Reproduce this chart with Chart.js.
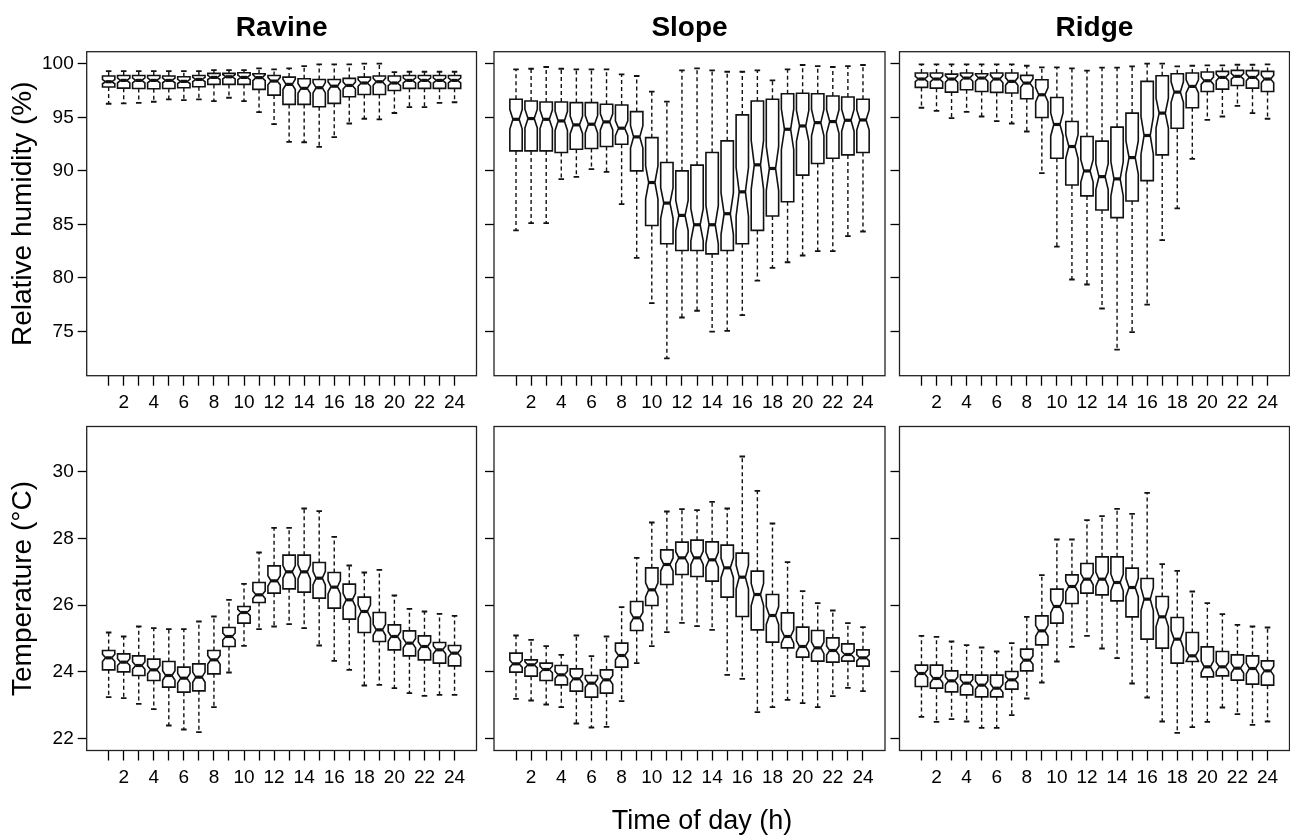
<!DOCTYPE html>
<html>
<head>
<meta charset="utf-8">
<title>Hourly humidity and temperature</title>
<script src="https://cdn.jsdelivr.net/npm/chart.js@4.4.1/dist/chart.umd.min.js"></script>
<style>
  body { margin: 0; background: #fff; }
  #wrap { position: relative; width: 1290px; height: 835px; overflow: hidden;
          font-family: 'Liberation Sans', Arial, Helvetica, sans-serif; color: #000; }
  #wrap canvas { position: absolute; left: 0; top: 0; }
  .title { position: absolute; font-size: 28px; line-height: 28px; font-weight: bold;
           white-space: nowrap; transform: translateX(-50%); }
  .xlab { position: absolute; font-size: 27px; line-height: 27px; white-space: nowrap;
          transform: translateX(-50%); }
</style>
</head>
<body>
<div id="wrap">
  <canvas id="c0" width="1290" height="835"></canvas>
  <canvas id="c1" width="1290" height="835"></canvas>
  <canvas id="c2" width="1290" height="835"></canvas>
  <canvas id="c3" width="1290" height="835"></canvas>
  <canvas id="c4" width="1290" height="835"></canvas>
  <canvas id="c5" width="1290" height="835"></canvas>
  <div class="title" style="left:281.6px; top:13px;">Ravine</div>
  <div class="title" style="left:689.5px; top:13px;">Slope</div>
  <div class="title" style="left:1094.5px; top:13px;">Ridge</div>
  <div class="xlab" style="left:702px; top:807px;">Time of day (h)</div>
</div>
<script>
// hours of the day and tick labels
const hours = [1,2,3,4,5,6,7,8,9,10,11,12,13,14,15,16,17,18,19,20,21,22,23,24];
const hourLabels = [2,4,6,8,10,12,14,16,18,20,22,24];
const rhTicks = [75,80,85,90,95,100];
const tempTicks = [22,24,26,28,30];
const siteNames = ["Ravine", "Slope", "Ridge"];
const rhTitle = "Relative humidity (%)";
const tempTitle = "Temperature (°C)";

// relative humidity (%), whisker ends, hinges and medians
const ravineRhHi  = [99.31,99.3,99.3,99.3,99.3,99.3,99.3,99.4,99.4,99.4,99.56,99.47,99.56,99.78,99.94,99.94,99.94,100.0,100.0,99.22,99.25,99.25,99.25,99.25];
const ravineRhQ3  = [98.85,98.9,98.9,98.9,98.85,98.78,98.9,99.1,99.1,99.16,99.06,98.9,98.75,98.6,98.53,98.53,98.63,98.75,98.85,98.85,98.9,98.9,98.9,98.9];
const ravineRhMed = [98.32,98.44,98.44,98.44,98.44,98.35,98.53,98.72,98.78,98.72,98.7,98.38,98.07,97.7,97.76,97.9,97.97,98.2,98.32,98.2,98.44,98.44,98.44,98.44];
const ravineRhQ1  = [97.82,97.72,97.69,97.66,97.69,97.75,97.85,98.07,98.07,98.07,97.6,97.07,96.2,96.2,95.98,96.3,96.91,97.13,97.13,97.5,97.7,97.7,97.7,97.7];
const ravineRhLo  = [96.26,96.3,96.35,96.45,96.67,96.6,96.67,96.5,96.82,96.5,95.48,94.36,92.7,92.67,92.24,93.14,94.42,94.86,94.8,95.4,95.95,95.95,96.35,96.4];

const slopeRhHi  = [99.47,99.53,99.69,99.53,99.47,99.47,99.47,99.0,98.85,97.39,96.46,99.38,99.57,99.38,99.25,99.25,99.38,98.45,99.47,99.88,99.78,99.69,99.78,99.88];
const slopeRhQ3  = [96.68,96.52,96.43,96.43,96.37,96.37,96.21,96.15,95.53,93.1,90.78,90.0,90.53,91.71,92.8,95.22,96.52,96.68,97.2,97.24,97.2,96.99,96.89,96.68];
const slopeRhMed = [94.81,94.88,94.81,94.66,94.29,94.35,94.57,93.98,93.17,88.91,86.99,85.84,84.97,84.97,86.0,88.04,90.56,90.22,93.88,94.19,94.5,94.6,94.72,94.75];
const slopeRhQ1  = [91.86,91.86,91.86,91.71,92.02,92.08,92.27,92.48,90.0,84.9,83.19,82.56,82.56,82.25,82.56,83.19,84.44,85.78,87.11,89.6,90.68,91.18,91.49,91.71];
const slopeRhLo  = [84.44,85.12,85.12,89.22,89.44,90.16,89.91,86.9,81.87,77.66,72.5,76.31,76.94,75.0,75.06,76.53,79.75,80.94,81.47,82.1,82.5,82.5,83.9,84.34];

const ridgeRhHi  = [99.94,99.94,99.94,99.94,99.94,99.94,99.94,99.81,99.66,99.66,99.56,99.35,99.63,99.63,99.75,100.0,100.0,99.75,99.81,99.84,99.84,99.9,99.9,99.94];
const ridgeRhQ3  = [99.13,99.13,99.03,99.13,99.06,99.13,99.13,98.91,98.5,96.85,94.61,93.2,92.77,94.08,95.39,98.35,98.88,99.06,99.13,99.22,99.28,99.38,99.35,99.28];
const ridgeRhMed = [98.57,98.57,98.57,98.66,98.66,98.57,98.35,98.19,97.1,94.33,92.27,89.99,89.46,89.25,91.24,93.3,95.39,97.35,97.88,98.41,98.72,98.82,98.72,98.57];
const ridgeRhQ1  = [97.79,97.72,97.35,97.57,97.41,97.32,97.26,96.73,94.98,91.18,88.68,87.66,86.35,85.63,87.19,89.09,91.49,93.98,95.89,97.41,97.63,97.97,97.72,97.41];
const ridgeRhLo  = [95.89,95.6,94.92,95.51,95.07,94.64,94.42,93.67,89.78,82.92,79.86,79.39,77.15,73.32,74.94,77.52,83.54,86.5,91.12,94.76,95.07,96.07,95.39,94.86];

// temperature (°C)
const ravineTHi  = [25.18,25.06,25.36,25.31,25.28,25.28,25.51,25.66,26.16,26.64,27.58,28.32,28.32,28.9,28.82,28.05,27.19,26.98,27.06,26.29,25.89,25.81,25.74,25.68];
const ravineTQ3  = [24.64,24.54,24.48,24.38,24.31,24.14,24.24,24.64,25.33,25.96,26.68,27.18,27.5,27.5,27.28,26.98,26.63,26.24,25.78,25.41,25.23,25.08,24.88,24.79];
const ravineTMed = [24.42,24.29,24.19,24.06,23.89,23.81,23.84,24.36,25.06,25.78,26.31,26.73,27.0,27.0,26.81,26.54,26.16,25.81,25.26,25.06,24.86,24.76,24.66,24.56];
const ravineTQ1  = [24.06,24.0,23.89,23.74,23.54,23.39,23.43,23.94,24.76,25.46,26.08,26.36,26.49,26.39,26.21,25.91,25.58,25.18,24.91,24.66,24.48,24.36,24.26,24.18];
const ravineTLo  = [23.24,23.21,23.04,22.88,22.39,22.27,22.19,22.94,23.98,24.78,25.28,25.36,25.43,25.31,24.79,24.33,24.06,23.59,23.61,23.51,23.36,23.28,23.31,23.31];

const slopeTHi  = [25.09,24.96,24.77,24.51,25.09,24.47,25.06,25.94,27.42,28.48,28.81,28.88,28.85,29.1,28.9,30.46,29.43,28.45,27.29,26.42,26.06,25.84,25.46,25.34];
const slopeTQ3  = [24.56,24.36,24.26,24.19,24.09,23.89,24.06,24.86,26.11,27.12,27.66,27.89,27.95,27.9,27.8,27.56,27.02,26.32,25.77,25.34,25.24,25.02,24.84,24.66];
const slopeTMed = [24.24,24.21,24.07,23.91,23.79,23.66,23.76,24.49,25.62,26.46,27.22,27.42,27.42,27.36,27.12,26.84,26.32,25.69,25.06,24.76,24.72,24.64,24.52,24.42];
const slopeTQ1  = [23.99,23.87,23.74,23.61,23.42,23.24,23.36,24.14,25.24,25.99,26.62,26.92,26.86,26.72,26.24,25.66,25.26,24.89,24.72,24.44,24.32,24.29,24.32,24.17];
const slopeTLo  = [23.19,23.14,23.02,22.94,22.45,22.33,22.35,23.12,24.26,24.77,25.19,25.47,25.37,25.26,23.91,23.79,22.79,22.94,23.16,23.06,22.94,23.27,23.52,23.42];

const ridgeTHi  = [25.08,25.05,24.91,24.8,24.73,24.61,24.86,25.65,26.9,27.97,27.97,28.55,28.67,28.89,28.74,29.37,27.23,27.03,26.41,26.06,25.73,25.41,25.36,25.33];
const ridgeTQ3  = [24.2,24.2,24.03,23.91,23.9,23.9,24.01,24.68,25.68,26.48,26.91,27.25,27.45,27.45,27.11,26.8,26.26,25.63,25.18,24.75,24.61,24.51,24.48,24.33];
const ridgeTMed = [23.95,23.8,23.73,23.66,23.6,23.51,23.76,24.35,25.23,25.96,26.56,26.78,26.78,26.68,26.53,26.18,25.65,24.98,24.48,24.15,24.15,24.11,24.1,24.03];
const ridgeTQ1  = [23.56,23.51,23.4,23.31,23.25,23.25,23.48,24.03,24.81,25.46,26.05,26.36,26.31,26.13,25.65,24.98,24.71,24.26,24.31,23.85,23.88,23.75,23.63,23.6];
const ridgeTLo  = [22.65,22.5,22.58,22.51,22.32,22.32,22.7,23.2,23.68,24.31,24.75,25.08,24.7,24.41,23.65,23.23,22.51,22.17,22.34,22.5,22.93,22.73,22.41,22.51];

// approx. number of observations per hour (sets notch depth)
const nObs = 70;

// layout (pixels)
const COL_LEFT = [86.7, 494, 899.5];
const COL_RIGHT = [476.5, 885, 1289.5];
const ROW_TOP = [51.7, 426.5];
const ROW_BOTTOM = [375.7, 750.5];
const X_AXIS_H = 40;
const BOX_WIDTH = 0.82;     // in hours
const NOTCH_FRAC = 0.5;
const STAPLE_FRAC = 0.45;

Chart.defaults.font.family = "'Liberation Sans', Arial, Helvetica, sans-serif";
Chart.defaults.color = "#000";

const boxplotPlugin = {
    id: "boxplot",
    afterDatasetsDraw(chart) {
        const ctx = chart.ctx;
        const xs = chart.scales.x;
        const ys = chart.scales.y;
        const s = chart.data.datasets[0].stats;
        const k = 1.58 / Math.sqrt(nObs);

        ctx.save();
        ctx.strokeStyle = "#111";
        hours.forEach((h, i) => {
            const x = xs.getPixelForValue(h);
            const w = xs.getPixelForValue(h + BOX_WIDTH / 2) - x;
            const yHi = ys.getPixelForValue(s.hi[i]);
            const yQ3 = ys.getPixelForValue(s.q3[i]);
            const yMed = ys.getPixelForValue(s.med[i]);
            const yQ1 = ys.getPixelForValue(s.q1[i]);
            const yLo = ys.getPixelForValue(s.lo[i]);
            const iqr = s.q3[i] - s.q1[i];
            const yC1 = ys.getPixelForValue(s.med[i] - k * iqr);
            const yC2 = ys.getPixelForValue(s.med[i] + k * iqr);

            // whiskers
            ctx.lineWidth = 1.4;
            ctx.setLineDash([4, 3]);
            ctx.beginPath();
            ctx.moveTo(x, yQ3); ctx.lineTo(x, yHi);
            ctx.moveTo(x, yQ1); ctx.lineTo(x, yLo);
            ctx.stroke();
            ctx.setLineDash([]);
            ctx.lineWidth = 1.8;
            ctx.beginPath();
            ctx.moveTo(x - w * STAPLE_FRAC, yHi); ctx.lineTo(x + w * STAPLE_FRAC, yHi);
            ctx.moveTo(x - w * STAPLE_FRAC, yLo); ctx.lineTo(x + w * STAPLE_FRAC, yLo);
            ctx.stroke();

            // notched box
            ctx.lineWidth = 1.6;
            ctx.beginPath();
            ctx.moveTo(x - w, yQ1);
            ctx.lineTo(x + w, yQ1);
            ctx.lineTo(x + w, yC1);
            ctx.lineTo(x + w * NOTCH_FRAC, yMed);
            ctx.lineTo(x + w, yC2);
            ctx.lineTo(x + w, yQ3);
            ctx.lineTo(x - w, yQ3);
            ctx.lineTo(x - w, yC2);
            ctx.lineTo(x - w * NOTCH_FRAC, yMed);
            ctx.lineTo(x - w, yC1);
            ctx.closePath();
            ctx.fillStyle = "#fff";
            ctx.fill();
            ctx.stroke();

            // median
            ctx.lineWidth = 3.2;
            ctx.beginPath();
            ctx.moveTo(x - w * NOTCH_FRAC, yMed);
            ctx.lineTo(x + w * NOTCH_FRAC, yMed);
            ctx.stroke();
        });

        // plot frame
        const a = chart.chartArea;
        ctx.lineWidth = 1.3;
        ctx.strokeStyle = "#222";
        ctx.strokeRect(a.left, a.top, a.right - a.left, a.bottom - a.top);
        ctx.restore();
    }
};

function makePanel(canvasId, col, row, stats, yMin, yMax, yTicks, yTitle) {
    const left = COL_LEFT[col];
    const right = COL_RIGHT[col];
    const top = ROW_TOP[row];
    const bottom = ROW_BOTTOM[row];
    const yW = col === 0 ? left : 20;

    return new Chart(document.getElementById(canvasId), {
        type: "scatter",
        data: {
            datasets: [{
                data: hours.map((h, i) => ({ x: h, y: stats.med[i] })),
                pointRadius: 0,
                showLine: false,
                stats: stats
            }]
        },
        options: {
            responsive: false,
            animation: false,
            devicePixelRatio: 1,
            events: [],
            layout: {
                padding: { left: left - yW, right: 1290 - right, top: top, bottom: 835 - bottom - X_AXIS_H }
            },
            plugins: {
                legend: { display: false },
                tooltip: { enabled: false }
            },
            scales: {
                x: {
                    type: "linear",
                    bounds: "data",
                    min: -0.46,
                    max: 25.46,
                    afterBuildTicks: (s) => { s.ticks = hours.map(v => ({ value: v })); },
                    afterFit: (s) => { s.height = X_AXIS_H; },
                    border: { display: false },
                    grid: { drawOnChartArea: false, tickLength: 10, color: "#000", tickWidth: 1.3 },
                    ticks: {
                        autoSkip: false,
                        maxRotation: 0,
                        padding: 6,
                        color: "#000",
                        font: { size: 19 },
                        callback: (v) => hourLabels.includes(v) ? String(v) : ""
                    }
                },
                y: {
                    type: "linear",
                    bounds: "data",
                    min: yMin,
                    max: yMax,
                    afterBuildTicks: (s) => { s.ticks = yTicks.map(v => ({ value: v })); },
                    afterFit: (s) => { s.width = yW; },
                    border: { display: false },
                    grid: { drawOnChartArea: false, tickLength: 9, color: "#000", tickWidth: 1.3 },
                    ticks: {
                        autoSkip: false,
                        padding: 4,
                        color: "#000",
                        font: { size: 19 },
                        callback: (v) => col === 0 ? String(v) : ""
                    },
                    title: {
                        display: col === 0,
                        text: yTitle,
                        color: "#000",
                        font: { size: 28 },
                        padding: { top: 6, bottom: 0 }
                    }
                }
            }
        },
        plugins: [boxplotPlugin]
    });
}

const rhStats = [
    { hi: ravineRhHi, q3: ravineRhQ3, med: ravineRhMed, q1: ravineRhQ1, lo: ravineRhLo },
    { hi: slopeRhHi, q3: slopeRhQ3, med: slopeRhMed, q1: slopeRhQ1, lo: slopeRhLo },
    { hi: ridgeRhHi, q3: ridgeRhQ3, med: ridgeRhMed, q1: ridgeRhQ1, lo: ridgeRhLo }
];
const tempStats = [
    { hi: ravineTHi, q3: ravineTQ3, med: ravineTMed, q1: ravineTQ1, lo: ravineTLo },
    { hi: slopeTHi, q3: slopeTQ3, med: slopeTMed, q1: slopeTQ1, lo: slopeTLo },
    { hi: ridgeTHi, q3: ridgeTQ3, med: ridgeTMed, q1: ridgeTQ1, lo: ridgeTLo }
];

siteNames.forEach((name, col) => {
    makePanel("c" + col, col, 0, rhStats[col], 70.88, 101.12, rhTicks, rhTitle);
    makePanel("c" + (col + 3), col, 1, tempStats[col], 21.64, 31.36, tempTicks, tempTitle);
});
</script>
</body>
</html>
